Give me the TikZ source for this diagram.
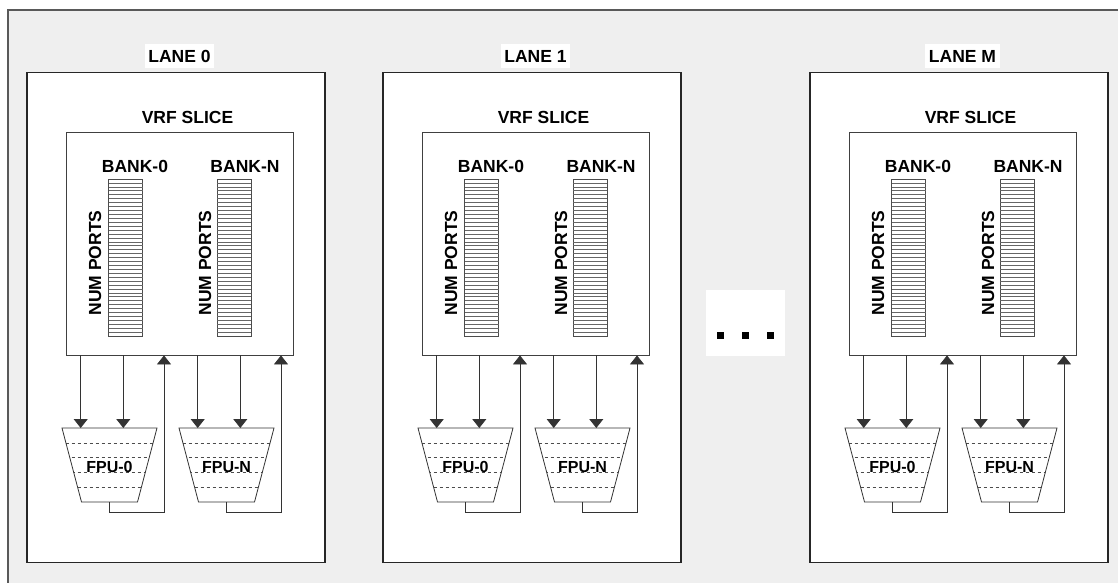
\documentclass[tikz,border=0pt]{standalone}
\usepackage{fontspec}
\setmainfont{Liberation Sans}
\usetikzlibrary{arrows.meta}
\definecolor{bggray}{HTML}{EFEFEF}

\begin{document}
\begin{tikzpicture}[x=1pt, y=-1pt,
    lanebox/.style={rectangle, draw=black!85, line width=1.4pt, fill=white,
                    minimum width=298pt, minimum height=490pt, inner sep=0pt},
    vrfbox/.style={rectangle, draw=black!75, line width=0.8pt, fill=white,
                   minimum width=227pt, minimum height=223pt, inner sep=0pt},
    bankbox/.style={rectangle, draw=black!70, line width=0.7pt,
                    minimum width=34pt, minimum height=157pt, inner sep=0pt},
    lanetitle/.style={font=\bfseries\fontsize{17.5}{20}\selectfont, fill=white,
                      inner xsep=3.5pt, inner ysep=6pt},
    txt/.style={font=\bfseries\fontsize{17.5}{20}\selectfont, inner sep=0pt},
    fputxt/.style={font=\bfseries\fontsize{16}{18}\selectfont, inner sep=0pt},
    stripe/.style={draw=black!60, line width=0.6pt},
    arrow/.style={-{Triangle[width=14pt,length=9pt]}, draw=black!80, line width=0.8pt},
    dot/.style={rectangle, fill=black, minimum size=7pt, inner sep=0pt}]
    \useasboundingbox (0,0) rectangle (1118,582);
    \clip (0,0) rectangle (1118,582);
    \draw[draw=black!65, fill=bggray, line width=1.2pt] (8,10) rectangle (1140,610);

    % lanes
    \foreach \dx/\n/\lbl in {0/0/LANE 0, 356/1/LANE 1, 783/m/LANE M} {
    \begin{scope}[xshift=\dx pt]
    \node[lanebox] (lane\n) at (175.85,317.35) {};
    \node[lanetitle] (title\n) at (179.5,56) {\lbl};
    \node[vrfbox] (vrf\n) at (180.35,243.5) {};
    \node[txt] (vrftxt\n) at (187.5,117) {VRF SLICE};
    \node[bankbox] (banka\n) at (125.5,257.5) {};
    \node[bankbox] (bankb\n) at (234.15,257.5) {};
    \node[txt] (bankatxt\n) at (135,166) {BANK-0};
    \node[txt] (bankbtxt\n) at (245,166) {BANK-N};
    \node[txt, rotate=90] (portsa\n) at (95,263) {NUM PORTS};
    \node[txt, rotate=90] (portsb\n) at (205,263) {NUM PORTS};
    \foreach \k in {1,...,39} {
        \draw[stripe] (108.5,{179+\k*3.925}) -- (142.5,{179+\k*3.925});
        \draw[stripe] (217.15,{179+\k*3.925}) -- (251.15,{179+\k*3.925});
    }
    % fpus
    \foreach \fx/\fn/\ft in {109.5/0/FPU-0, 226.5/n/FPU-N} {
        \begin{scope}
        \clip ({\fx-47.5},428) -- ({\fx+47.5},428) -- ({\fx+28},502) -- ({\fx-28},502) -- cycle;
        \fill[white] ({\fx-50},425) rectangle ({\fx+50},505);
        \foreach \t in {1,...,4}
            \draw[black!70, dashed, line width=0.6pt] ({\fx-50},{428+\t*14.8}) -- ({\fx+50},{428+\t*14.8});
        \end{scope}
        \draw[black!80, line width=0.8pt] ({\fx-47.5},428) -- ({\fx+47.5},428)
            -- ({\fx+28},502) -- ({\fx-28},502) -- cycle;
        \node[fputxt] (fpu\fn-\n) at (\fx,466.7) {\ft};
        \coordinate (ina-\fn-\n) at ({\fx-28.8},428);
        \coordinate (inb-\fn-\n) at ({\fx+13.8},428);
        \coordinate (out-\fn-\n) at (\fx,502);
        \coordinate (ret-\fn-\n) at ({\fx+54.5},512);
        \draw[arrow] (vrf\n.south -| ina-\fn-\n) -- (ina-\fn-\n);
        \draw[arrow] (vrf\n.south -| inb-\fn-\n) -- (inb-\fn-\n);
        \draw[arrow] (out-\fn-\n) |- (ret-\fn-\n) -- (vrf\n.south -| ret-\fn-\n);
    }
    \end{scope}
    }

    % more lanes
    \node[rectangle, fill=white, minimum width=79pt, minimum height=66pt, inner sep=0pt] (dots) at (745.5,323) {};
    \node[dot] (dota) at (720.3,335.3) {};
    \node[dot] (dotb) at (745.3,335.3) {};
    \node[dot] (dotc) at (770.3,335.3) {};
\end{tikzpicture}
\end{document}
